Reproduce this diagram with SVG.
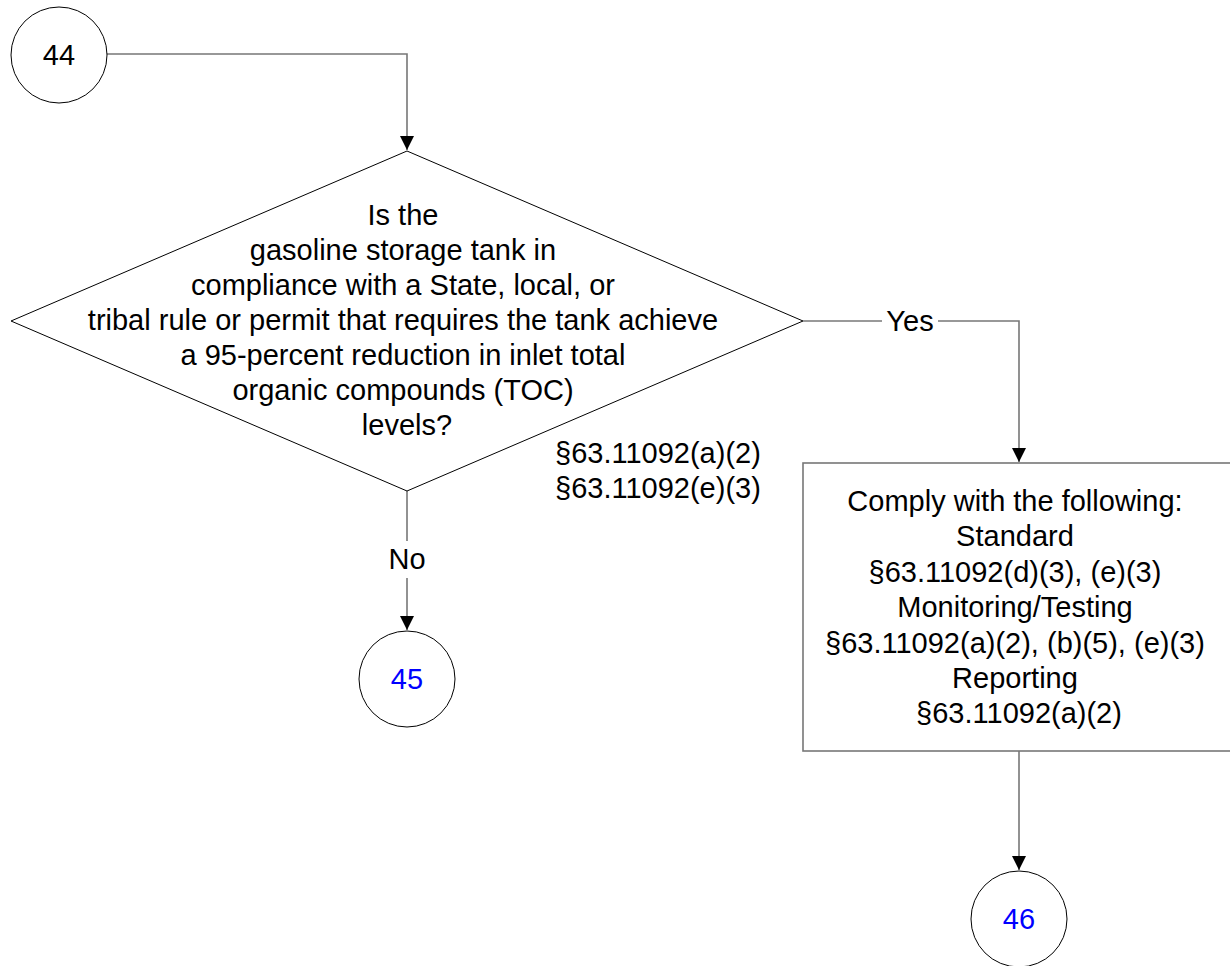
<svg xmlns="http://www.w3.org/2000/svg" width="1230" height="966" viewBox="0 0 1230 966">
<defs>
<style>
.t{font-family:"Liberation Sans",Arial,sans-serif;font-size:29px;fill:#000}
.c{text-anchor:middle}
.blue{fill:#0000ff}
.shape{fill:#fff;stroke:#000;stroke-width:1}
.box{fill:#fff;stroke:#777;stroke-width:1.6}
.conn{fill:none;stroke:#777;stroke-width:1.6}
</style>
<marker id="arr" markerUnits="userSpaceOnUse" markerWidth="16" markerHeight="16" viewBox="0 0 16 16" refX="15" refY="8" orient="auto">
<path d="M1,1 L15,8 L1,15 z" fill="#000"/>
</marker>
</defs>
<g id="connectors">
<path class="conn" d="M107,54 H407 V150" marker-end="url(#arr)"/>
<path class="conn" d="M803,321 H882"/>
<path class="conn" d="M938,321 H1019 V462" marker-end="url(#arr)"/>
<path class="conn" d="M407,491 V541"/>
<path class="conn" d="M407,578 V630" marker-end="url(#arr)"/>
<path class="conn" d="M1019,751 V870" marker-end="url(#arr)"/>
<text class="t c" x="910" y="331">Yes</text>
<text class="t c" x="407" y="569">No</text>
</g>
<g id="n44">
<circle class="shape" cx="59" cy="55" r="48"/>
<text class="t c" x="59" y="65">44</text>
</g>
<g id="decision">
<polygon class="shape" points="407,151 803,321 407,491 11,321"/>
<text class="t c" x="407">
<tspan x="407" y="225">Is the</tspan>
<tspan x="407" y="260">gasoline storage tank in</tspan>
<tspan x="407" y="295">compliance with a State, local, or</tspan>
<tspan x="407" y="330">tribal rule or permit that requires the tank achieve</tspan>
<tspan x="407" y="365">a 95-percent reduction in inlet total</tspan>
<tspan x="407" y="400">organic compounds (TOC)</tspan>
<tspan x="407" y="435">levels?</tspan>
</text>
</g>
<g id="cite">
<text class="t" x="555" y="463">§63.11092(a)(2)</text>
<text class="t" x="555" y="498">§63.11092(e)(3)</text>
</g>
<g id="comply">
<rect class="box" x="803" y="463" width="440" height="288"/>
<text class="t c">
<tspan x="1019" y="511">Comply with the following:</tspan>
<tspan x="1019" y="546">Standard</tspan>
<tspan x="1019" y="582">§63.11092(d)(3), (e)(3)</tspan>
<tspan x="1019" y="617">Monitoring/Testing</tspan>
<tspan x="1019" y="653">§63.11092(a)(2), (b)(5), (e)(3)</tspan>
<tspan x="1019" y="688">Reporting</tspan>
<tspan x="1019" y="723">§63.11092(a)(2)</tspan>
</text>
</g>
<g id="n45">
<circle class="shape" cx="407" cy="679" r="48"/>
<text class="t c blue" x="407" y="689">45</text>
</g>
<g id="n46">
<circle class="shape" cx="1019" cy="919" r="48"/>
<text class="t c blue" x="1019" y="929">46</text>
</g>
</svg>
